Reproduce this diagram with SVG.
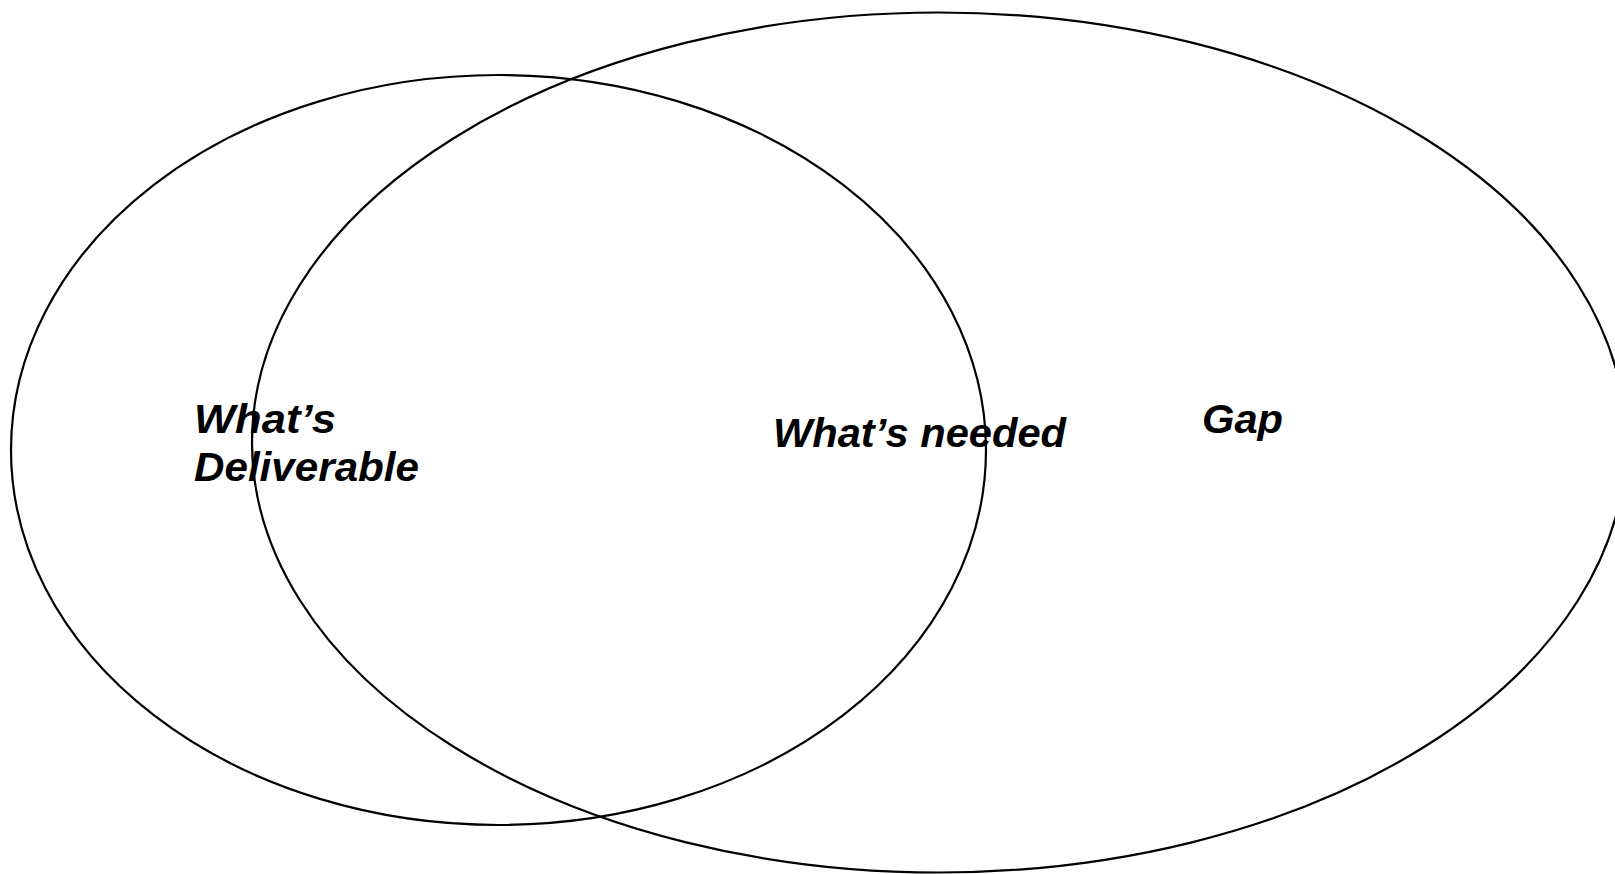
<svg xmlns="http://www.w3.org/2000/svg" width="1615" height="874" viewBox="0 0 1615 874">
<style>
.ring{fill:none;stroke:#000;stroke-width:2.2}
.lbl{font-family:"Liberation Sans",Arial,sans-serif;font-weight:bold;font-style:italic;font-size:40px;fill:#000}
</style>
<rect width="1615" height="874" fill="#fff"/>
<g id="connectors"></g>
<g id="deliverable">
<ellipse class="ring" cx="498.5" cy="450" rx="487.5" ry="375"/>
</g>
<g id="needed">
<ellipse class="ring" cx="939" cy="442.5" rx="687" ry="430"/>
</g>
<g id="label-deliverable">
<text class="lbl" x="194" y="433" textLength="142" lengthAdjust="spacingAndGlyphs">What’s</text>
<text class="lbl" x="194" y="481" textLength="225" lengthAdjust="spacingAndGlyphs">Deliverable</text>
</g>
<g id="label-needed">
<text class="lbl" x="773" y="447" textLength="293" lengthAdjust="spacingAndGlyphs">What’s needed</text>
</g>
<g id="label-gap">
<text class="lbl" x="1202" y="433" textLength="81" lengthAdjust="spacingAndGlyphs">Gap</text>
</g>
</svg>
